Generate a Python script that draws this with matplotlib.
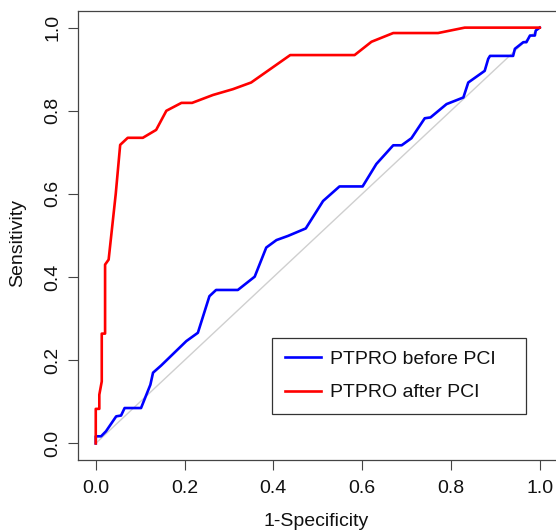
import numpy as np
import matplotlib
matplotlib.use("Agg")
import matplotlib.pyplot as plt

plt.rcParams['font.family'] = ['Liberation Sans', 'DejaVu Sans']

# ROC points (1-specificity, sensitivity)
before_fpr = [0.0, 0.0, 0.012, 0.023, 0.046, 0.057, 0.065, 0.102, 0.114, 0.123, 0.129,
              0.147, 0.204, 0.230, 0.256, 0.271, 0.320, 0.358, 0.384, 0.407, 0.433,
              0.473, 0.512, 0.549, 0.601, 0.632, 0.670, 0.689, 0.711, 0.741, 0.754,
              0.790, 0.828, 0.839, 0.876, 0.884, 0.888, 0.940, 0.944, 0.963, 0.970,
              0.978, 0.989, 0.991, 1.0]
before_tpr = [0.0, 0.017, 0.017, 0.029, 0.065, 0.067, 0.085, 0.085, 0.117, 0.141, 0.170,
              0.187, 0.246, 0.266, 0.354, 0.369, 0.369, 0.401, 0.471, 0.489, 0.499,
              0.517, 0.583, 0.618, 0.618, 0.672, 0.717, 0.717, 0.734, 0.782, 0.784,
              0.816, 0.832, 0.868, 0.896, 0.925, 0.932, 0.932, 0.949, 0.965, 0.965,
              0.981, 0.981, 0.993, 1.0]

after_fpr = [0.0, 0.0, 0.008, 0.008, 0.0135, 0.0135, 0.021, 0.021, 0.029, 0.045, 0.055,
             0.072, 0.106, 0.136, 0.159, 0.193, 0.217, 0.264, 0.309, 0.350, 0.438,
             0.583, 0.621, 0.670, 0.771, 0.831, 1.0]
after_tpr = [0.0, 0.083, 0.083, 0.117, 0.149, 0.264, 0.264, 0.430, 0.442, 0.600, 0.718,
             0.735, 0.735, 0.754, 0.800, 0.819, 0.819, 0.838, 0.852, 0.868, 0.934,
             0.934, 0.966, 0.987, 0.987, 1.0, 1.0]

labels = ['PTPRO before PCI', 'PTPRO after PCI']
ticks = [0.0, 0.2, 0.4, 0.6, 0.8, 1.0]

fig = plt.figure(figsize=(5.56, 5.32), dpi=100)
ax = fig.add_axes([78 / 556, 1 - 460 / 532, 479.5 / 556, 449 / 532])

ax.plot([0, 1], [0, 1], color='#cfcfcf', lw=1.0)
ax.plot(before_fpr, before_tpr, color='#0000ff', lw=1.9, label=labels[0])
ax.plot(after_fpr, after_tpr, color='#ff0000', lw=1.9, label=labels[1])

ax.set_xlim(-0.04, 1.04)
ax.set_ylim(-0.04, 1.04)
ax.set_xticks(ticks)
ax.set_yticks(ticks)
ax.set_xticklabels(['%.1f' % t for t in ticks])
ax.set_yticklabels(['%.1f' % t for t in ticks], rotation=90, va='center')
ax.tick_params(direction='out', length=7.2, width=0.8, colors='#444444',
               labelcolor='#111111', labelsize=14)
ax.tick_params(axis='x', pad=7)
ax.tick_params(axis='y', pad=5)
for s in ax.spines.values():
    s.set_color('#444444')
    s.set_linewidth(0.9)

ax.set_xlabel('1-Specificity', fontsize=14, color='#111111')
ax.set_ylabel('Sensitivity', fontsize=14, color='#111111')
ax.xaxis.set_label_coords(0.496, -0.136)
ax.yaxis.set_label_coords(-0.126, 0.483)
ax.xaxis.label.set_va('center')
ax.yaxis.label.set_va('center')

leg = ax.legend(loc='lower left', bbox_to_anchor=(0.4046, 0.1024, 0.5297, 0.1737),
                mode='expand', borderaxespad=0, fontsize=14, fancybox=False,
                framealpha=1, edgecolor='#333333', handlelength=1.87,
                handletextpad=0.48, labelspacing=0.8, borderpad=0.65)
leg.get_frame().set_linewidth(0.9)
for t in leg.get_texts():
    t.set_color('#111111')

fig.savefig('out.png', dpi=100)
